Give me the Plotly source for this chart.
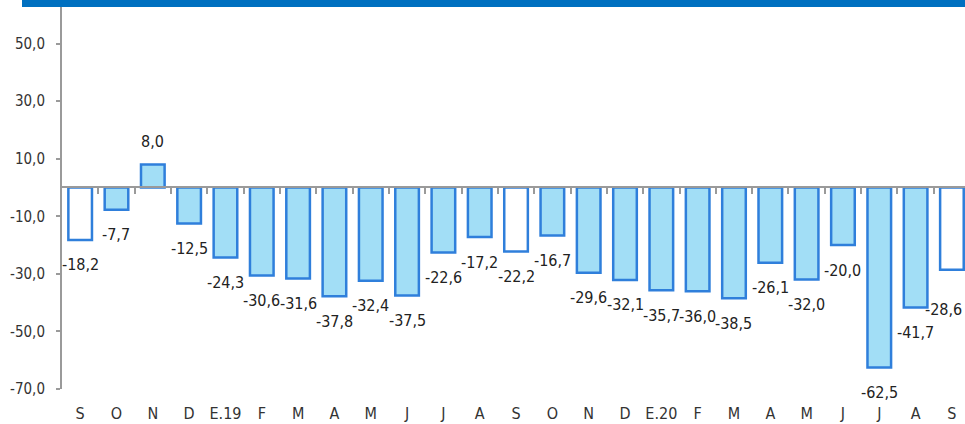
import plotly.graph_objects as go

months = ["S", "O", "N", "D", "E.19", "F", "M", "A", "M", "J", "J", "A",
          "S", "O", "N", "D", "E.20", "F", "M", "A", "M", "J", "J", "A", "S"]
values = [-18.2, -7.7, 8.0, -12.5, -24.3, -30.6, -31.6, -37.8, -32.4, -37.5, -22.6, -17.2,
          -22.2, -16.7, -29.6, -32.1, -35.7, -36.0, -38.5, -26.1, -32.0, -20.0, -62.5, -41.7, -28.6]
y_tick_vals = [50, 30, 10, -10, -30, -50, -70]
y_tick_text = ["50,0", "30,0", "10,0", "-10,0", "-30,0", "-50,0", "-70,0"]

Y_MIN, Y_MAX = -70, 62.7
FONT = "DejaVu Sans Condensed, sans-serif"

x_idx = list(range(len(months)))
fills = ["#FFFFFF" if m == "S" else "#A2DEF6" for m in months]

fig = go.Figure()
fig.add_trace(go.Bar(
    x=x_idx, y=values, width=0.65,
    marker=dict(color=fills, line=dict(color="#2F7FDB", width=2.5)),
    hoverinfo="skip", showlegend=False,
))
# helper trace for the bottom label axis
fig.add_trace(go.Scatter(x=[None], y=[None], xaxis="x2", yaxis="y",
                         mode="markers", showlegend=False, hoverinfo="skip"))

# label placement tweaks (last label pushed inside the chart, as in the original)
label_shift = {len(values) - 1: (-8, -40)}

for i, v in zip(x_idx, values):
    dx, dy = label_shift.get(i, (0, 23 if v >= 0 else -25))
    fig.add_annotation(
        x=i, y=v, xref="x", yref="y",
        text=f"{v:.1f}".replace(".", ","),
        showarrow=False, yanchor="middle", xanchor="center",
        xshift=dx, yshift=dy,
        font=dict(family=FONT, size=16, color="#222222"),
    )

zero_pos = (0 - Y_MIN) / (Y_MAX - Y_MIN)
xr = [-0.5, 24.36]

fig.update_layout(
    width=965, height=424,
    margin=dict(l=62, r=0, t=7, b=35),
    plot_bgcolor="white", paper_bgcolor="white",
    bargap=0.35,
    xaxis=dict(
        range=xr, anchor="free", position=zero_pos,
        showline=True, linecolor="#9A9A9A", linewidth=2,
        ticks="outside", ticklen=6, tickwidth=2, tickcolor="#9A9A9A",
        tickvals=[i + 0.5 for i in x_idx[:-1]],
        showticklabels=False, showgrid=False, zeroline=False,
    ),
    xaxis2=dict(
        range=xr, overlaying="x", anchor="y", side="bottom",
        tickvals=x_idx, ticktext=months, ticks="",
        showline=False, showgrid=False, zeroline=False,
        ticklabelstandoff=13,
        tickfont=dict(family=FONT, size=16, color="#333333"),
    ),
    yaxis=dict(
        range=[Y_MIN, Y_MAX],
        tickvals=y_tick_vals, ticktext=y_tick_text,
        showline=True, linecolor="#9A9A9A", linewidth=2,
        ticks="outside", ticklen=4, tickcolor="#9A9A9A", tickwidth=1.5,
        ticklabelstandoff=8,
        showgrid=False, zeroline=False,
        tickfont=dict(family=FONT, size=15, color="#333333"),
    ),
    shapes=[dict(type="rect", xref="paper", yref="paper",
                 x0=(22 - 62) / 903, x1=1.01, y0=1.0, y1=1.1,
                 fillcolor="#0070C0", line=dict(width=0), layer="above")],
)

fig.write_html("out.html", config={"displayModeBar": False},
               post_script="document.body.style.margin='0';document.body.style.overflow='hidden';")
